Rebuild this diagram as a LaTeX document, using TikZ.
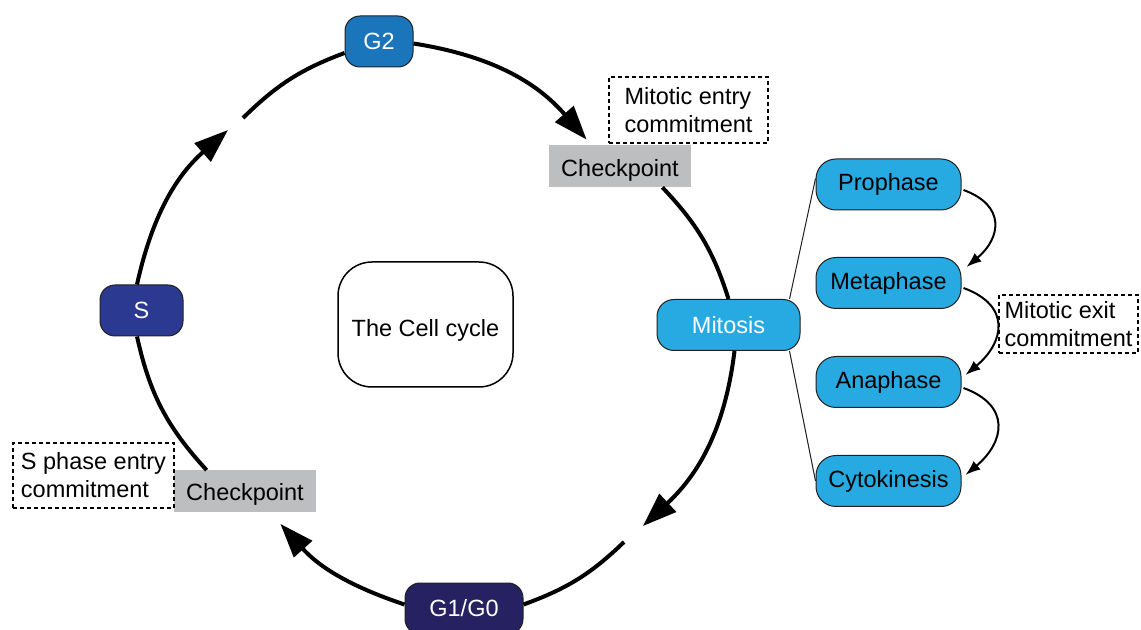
\documentclass[tikz,border=0pt]{standalone}
\usepackage{fontspec}
\setmainfont{Liberation Sans}
\usetikzlibrary{arrows.meta}
\definecolor{cGtwo}{HTML}{1B75BB}
\definecolor{cS}{HTML}{2B3990}
\definecolor{cGone}{HTML}{262262}
\definecolor{cMit}{HTML}{27AAE1}
\definecolor{cChk}{HTML}{BCBEC0}
\definecolor{cBorder}{HTML}{231F20}
\begin{document}
\begin{tikzpicture}[x=0.5pt,y=-0.5pt,
  every node/.style={font=\fontsize{11.75}{14}\selectfont, inner sep=0pt},
  cyc/.style={draw=cBorder, line width=0.5pt, rounded corners=7.5pt, text=white, minimum height=25.5pt},
  subph/.style={draw=cBorder, line width=0.5pt, rounded corners=10pt, fill=cMit, minimum width=72.5pt, minimum height=25.5pt},
  chk/.style={fill=cChk, minimum width=71pt, minimum height=21pt, text depth=0pt},
  note/.style={draw=black, dash pattern=on 2pt off 1.5pt, line width=0.75pt, align=left},
  cycarc/.style={line width=2pt},
  cycarrow/.style={cycarc, -{Triangle[length=17pt,width=12pt]}},
  subarrow/.style={line width=1pt, -{Latex[length=7.5pt,width=5.5pt]}, looseness=1.5},
  thinline/.style={line width=0.5pt, draw=cBorder}
]
\useasboundingbox (0,0) rectangle (1141,630);

% cycle nodes
\node[cyc, fill=cGtwo, minimum width=34pt] (G2) at (379,41.5) {G2};
\node[cyc, fill=cS, minimum width=41.5pt] (S) at (141.5,310.5) {S};
\node[cyc, fill=cGone, minimum width=59pt] (G1) at (464,608.5) {G1/G0};
\node[cyc, fill=cMit, minimum width=71.5pt, rounded corners=8.5pt] (mit) at (728.5,325) {Mitosis};

% centre
\node[draw=black, line width=0.75pt, rounded corners=17pt, minimum width=87.5pt, minimum height=62.5pt, text height=12.4pt, text depth=0pt] (cc) at (425.5,324.5) {The Cell cycle};

% checkpoints and notes
\node[chk, text height=10.4pt] (ckA) at (620,166) {Checkpoint};
\node[chk, text height=8.9pt] (ckB) at (245,491.5) {Checkpoint};
\node[note, minimum width=79.5pt, minimum height=33pt] (entry) at (688.5,110) {Mitotic entry\\commitment};
\node[note, minimum width=80.5pt, minimum height=32.5pt] (sentry) at (93.5,475.5) {S phase entry\\commitment};
\node[note, minimum width=69.5pt, minimum height=29pt] (exit) at (1068.5,324) {Mitotic exit\\commitment};

% mitosis sub-phases
\node[subph] (pro) at (888.5,184.5) {Prophase};
\node[subph] (met) at (888.5,283) {Metaphase};
\node[subph] (ana) at (888.5,382) {Anaphase};
\node[subph] (cyt) at (888.5,481) {Cytokinesis};

% free ends of the cycle arcs
\coordinate (tipC) at (643,526);
\coordinate (gapC) at (624,542);
\coordinate (tipG) at (228,130);
\coordinate (gapG) at (243,118);

% cycle arcs
\draw[cycarrow] ([yshift=-1pt]G2.east) to[out=-9, in=131] ([xshift=19pt,yshift=2.5pt]ckA.north west);
\draw[cycarc] ([xshift=-14.5pt]ckA.south east) to[out=-46.5, in=107.5] (mit.north);
\draw[cycarrow] ([xshift=3pt]mit.south) to[out=-97, in=43] (tipC);
\draw[cycarc] (gapC) to[out=-136, in=20] ([yshift=2pt]G1.east);
\draw[cycarrow] ([yshift=2pt]G1.west) to[out=161.5, in=-48] ([xshift=-18pt,yshift=-5.5pt]ckB.south east);
\draw[cycarc] ([xshift=16.5pt]ckB.north west) to[out=132.5, in=-77.5] ([xshift=-2.25pt]S.south);
\draw[cycarrow] ([xshift=-2.25pt]S.north) to[out=77.5, in=-138.5] (tipG);
\draw[cycarc] (gapG) to[out=44.5, in=-159.5] ([yshift=-5.75pt]G2.west);

% mitosis bracket
\draw[thinline] ([xshift=-5.5pt]mit.north east) -- ([yshift=3pt]pro.west);
\draw[thinline] ([xshift=-5.5pt]mit.south east) -- (cyt.west);

% sub-phase arrows
\draw[subarrow] ([xshift=1pt,yshift=-2.75pt]pro.east) to[out=-20, in=40] ([xshift=2.5pt,yshift=8pt]met.east);
\draw[subarrow] ([xshift=1pt,yshift=-2.5pt]met.east) to[out=-20, in=40] ([xshift=2pt,yshift=3.5pt]ana.east);
\draw[subarrow] ([xshift=1pt,yshift=-3pt]ana.east) to[out=-20, in=40] ([xshift=2pt,yshift=3pt]cyt.east);
\end{tikzpicture}
\end{document}
